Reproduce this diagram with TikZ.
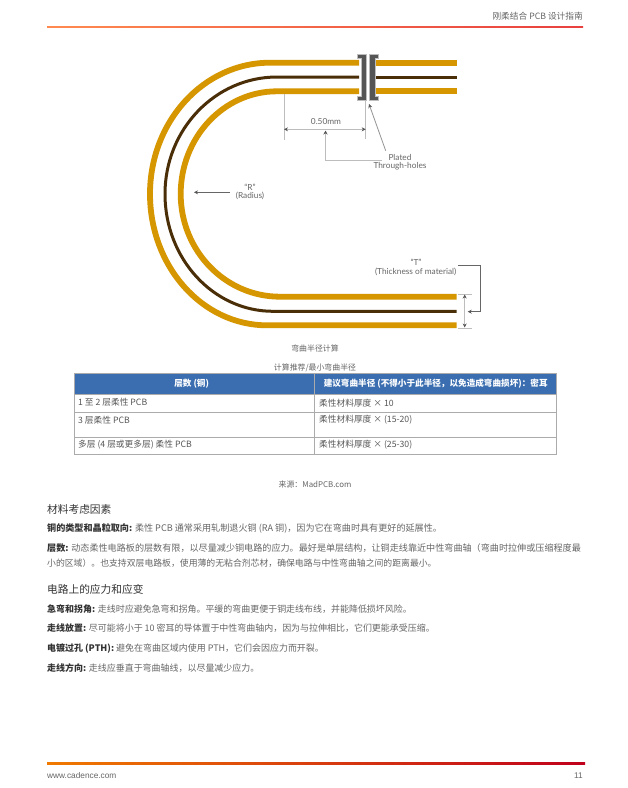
\documentclass[tikz,border=0pt]{standalone}
\usepackage{fontspec}
\setmainfont{Noto Sans CJK SC}
\newfontfamily\labelfont{Lato}
\newfontfamily\webfont{Liberation Sans}
\usetikzlibrary{arrows.meta,positioning}
\definecolor{stripgold}{HTML}{D69600}
\definecolor{stripbrown}{HTML}{4A2E08}
\definecolor{viagray}{HTML}{555555}
\definecolor{dimgray}{HTML}{BDBDBD}
\definecolor{labelgray}{HTML}{666666}
\definecolor{textgray}{HTML}{666666}
\definecolor{boldgray}{HTML}{333333}
\definecolor{headblue}{HTML}{3B6EB0}
\definecolor{ruleborder}{HTML}{ABABAB}
\definecolor{rulered}{HTML}{D5001F}
\definecolor{ruleorange}{HTML}{F07A00}
\definecolor{topleft}{HTML}{FF8A50}
\definecolor{topright}{HTML}{E8403F}

\begin{document}
\begin{tikzpicture}[x=1pt,y=-1pt,>={Stealth[length=4pt,width=4pt,color=viagray]}]
		\tikzstyle{strip}=[draw=stripgold, line width=5.8pt]
		\tikzstyle{core}=[draw=stripbrown, line width=3pt]
		\tikzstyle{via}=[fill=viagray, draw=dimgray, line width=0.4pt]
		\tikzstyle{dim}=[draw=dimgray, line width=0.8pt]
		\tikzstyle{lbl}=[font=\labelfont\fontsize{8.3}{9}\selectfont, text=labelgray, inner sep=0pt]
		\tikzstyle{captext}=[font=\fontsize{7.9}{9}\selectfont, text=textgray, inner sep=0pt]
		\tikzstyle{cell}=[draw=ruleborder, line width=1pt, anchor=north west, inner sep=0pt]
		\tikzstyle{celltext}=[font=\fontsize{8.7}{10}\selectfont, text=textgray!85!black, anchor=west, inner sep=0pt]
		\tikzstyle{headtext}=[font=\bfseries\fontsize{8.6}{10}\selectfont, text=white, inner sep=0pt]
		\tikzstyle{title}=[font=\fontsize{10.7}{12}\selectfont, text=boldgray, anchor=west, inner sep=0pt]
		\tikzstyle{para}=[font=\fontsize{8.97}{10}\selectfont, text=textgray, anchor=west, inner sep=0pt]

		\useasboundingbox (0,0) rectangle (628,788);
		\fill[white] (0,0) rectangle (628,788);

		% page head and foot
		\node [captext, anchor=east, font=\fontsize{8.7}{10}\selectfont] (headtitle) at (583,16) {刚柔结合 PCB 设计指南};
		\shade [left color=topleft, right color=topright] (47,26.9) rectangle (583,27.8);
		\shade [left color=ruleorange, right color=rulered!90!black] (47,762.8) rectangle (585,764);
		\node [captext, anchor=west, font=\webfont\fontsize{8.3}{10}\selectfont] (website) at (47,776) {www.cadence.com};
		\node [captext, anchor=east, font=\webfont\fontsize{8.3}{10}\selectfont] (pagenum) at (583,776) {11};

		% flex layers
		\draw [strip] (359,62.7) -- (270,62.7) arc [start angle=-90, end angle=-180, x radius=120, y radius=131.3]
			arc [start angle=180, end angle=90, x radius=117, y radius=131.3] -- (456.7,325.3);
		\draw [core] (359,77) -- (277,77) arc [start angle=-90, end angle=-180, x radius=112, y radius=117]
			arc [start angle=180, end angle=90, x radius=108, y radius=117.3] -- (456.7,311.3);
		\draw [strip] (359,91.3) -- (277,91.3) arc [start angle=-90, end angle=-180, x radius=96.3, y radius=102.7]
			arc [start angle=180, end angle=90, x radius=99.3, y radius=102.7] -- (456.7,296.7);
		\draw [strip] (375.7,62.7) -- (456.7,62.7);
		\draw [core] (375.7,77) -- (456.7,77);
		\draw [strip] (375.7,91.3) -- (456.7,91.3);

		% through-holes
		\draw [via] (357,54) -- (366,54) -- (366,100) -- (357,100) -- (357,96) -- (361,96) -- (361,58) -- (357,58) -- cycle;
		\draw [via] (369,54) -- (378,54) -- (378,58) -- (375,58) -- (375,96) -- (378,96) -- (378,100) -- (369,100) -- cycle;

		% 0.50mm dimension
		\coordinate (wa) at (284,94);
		\coordinate (wb) at (284,140);
		\coordinate (wc) at (365.7,100);
		\coordinate (wd) at (365.7,139);
		\coordinate (da) at (284,129.3);
		\coordinate (db) at (365.7,129.3);
		\draw [dim] (wa) -- (wb);
		\draw [dim] (wc) -- (wd);
		\draw [dim,<->] (da) -- (db);
		\node [lbl] (width) at (326,121.7) {0.50mm};
		\coordinate (upa) at (381.7,160);
		\coordinate (upb) at (325.5,160);
		\coordinate (upc) at (325.5,130.5);
		\draw [dim,->] (upa) -- (upb) -- (upc);
		\node [lbl] (plated) at (400,157) {Plated};
		\node [lbl] (holes) at (400,166) {Through-holes};
		\coordinate (pa) at (385.7,150.7);
		\coordinate (pb) at (369,104);
		\draw [dim,draw=labelgray!70,->] (pa) -- (pb);

		% radius
		\node [lbl] (rname) at (250,187) {“R”};
		\node [lbl] (radius) at (250,196) {(Radius)};
		\coordinate (ra) at (230,192.3);
		\coordinate (rb) at (194,192.3);
		\draw [dim,draw=labelgray,->] (ra) -- (rb);

		% thickness
		\node [lbl] (tname) at (416,262.7) {“T”};
		\node [lbl] (thick) at (415.7,272) {(Thickness of material)};
		\coordinate (ta) at (458,265);
		\coordinate (tb) at (480.7,265);
		\coordinate (tc) at (480.7,311.7);
		\coordinate (td) at (467.7,311.7);
		\draw [dim,draw=labelgray,->] (ta) -- (tb) -- (tc) -- (td);
		\coordinate (tka) at (458,294);
		\coordinate (tkb) at (471.7,294);
		\coordinate (tkc) at (458,328);
		\coordinate (tkd) at (471.7,328);
		\coordinate (tke) at (464.7,294.5);
		\coordinate (tkf) at (464.7,327.5);
		\draw [dim] (tka) -- (tkb);
		\draw [dim] (tkc) -- (tkd);
		\draw [dim,<->] (tke) -- (tkf);

		% captions
		\node [captext] (figcap) at (315,348) {弯曲半径计算};
		\node [captext] (tabcap) at (315,367.5) {计算推荐/最小弯曲半径};

		% table
		\node [cell, fill=headblue, minimum width=240.3pt, minimum height=21.3pt] (h1) at (74,373) {};
		\node [cell, fill=headblue, minimum width=241.7pt, minimum height=21.3pt] (h2) at (314.3,373) {};
		\node [cell, minimum width=240.3pt, minimum height=17.4pt] (a1) at (74,394.3) {};
		\node [cell, minimum width=241.7pt, minimum height=17.4pt] (b1) at (314.3,394.3) {};
		\node [cell, minimum width=240.3pt, minimum height=25.3pt] (a2) at (74,411.7) {};
		\node [cell, minimum width=241.7pt, minimum height=25.3pt] (b2) at (314.3,411.7) {};
		\node [cell, minimum width=240.3pt, minimum height=17.3pt] (a3) at (74,437) {};
		\node [cell, minimum width=241.7pt, minimum height=17.3pt] (b3) at (314.3,437) {};
		\node [headtext] (h1t) at (191.7,384) {层数 (铜)};
		\node [headtext] (h2t) at (435.7,384) {建议弯曲半径 (不得小于此半径，以免造成弯曲损坏)：密耳};
		\node [celltext] (a1t) at (78,402.7) {1 至 2 层柔性 PCB};
		\node [celltext] (b1t) at (319,402.7) {柔性材料厚度 × 10};
		\node [celltext] (a2t) at (78,420) {3 层柔性 PCB};
		\node [celltext] (b2t) at (319,420) {柔性材料厚度 × (15-20)};
		\node [celltext] (a3t) at (78,445) {多层 (4 层或更多层) 柔性 PCB};
		\node [celltext] (b3t) at (319,445) {柔性材料厚度 × (25-30)};
		\node [captext] (source) at (315,484) {来源：MadPCB.com};

		% body text
		\node [title] (mat) at (47,509) {材料考虑因素};
		\node [para, font=\fontsize{9.1}{10}\selectfont] (p1) at (47,528) {\textcolor{boldgray}{\bfseries 铜的类型和晶粒取向:} 柔性 PCB 通常采用轧制退火铜 (RA 铜)，因为它在弯曲时具有更好的延展性。};
		\node [para, font=\fontsize{9.1}{10}\selectfont] (p2) at (47,548) {\textcolor{boldgray}{\bfseries 层数:} 动态柔性电路板的层数有限，以尽量减少铜电路的应力。最好是单层结构，让铜走线靠近中性弯曲轴（弯曲时拉伸或压缩程度最};
		\node [para, font=\fontsize{8.85}{10}\selectfont] (p2b) at (47,563) {小的区域）。也支持双层电路板，使用薄的无粘合剂芯材，确保电路与中性弯曲轴之间的距离最小。};
		\node [title] (cir) at (47,589) {电路上的应力和应变};
		\node [para] (q1) at (47,609) {\textcolor{boldgray}{\bfseries 急弯和拐角:} 走线时应避免急弯和拐角。平缓的弯曲更便于铜走线布线，并能降低损坏风险。};
		\node [para] (q2) at (47,628) {\textcolor{boldgray}{\bfseries 走线放置:} 尽可能将小于 10 密耳的导体置于中性弯曲轴内，因为与拉伸相比，它们更能承受压缩。};
		\node [para] (q3) at (47,649) {\textcolor{boldgray}{\bfseries 电镀过孔 (PTH):} 避免在弯曲区域内使用 PTH，它们会因应力而开裂。};
		\node [para] (q4) at (47,668) {\textcolor{boldgray}{\bfseries 走线方向:} 走线应垂直于弯曲轴线，以尽量减少应力。};
	\end{tikzpicture}
\end{document}
